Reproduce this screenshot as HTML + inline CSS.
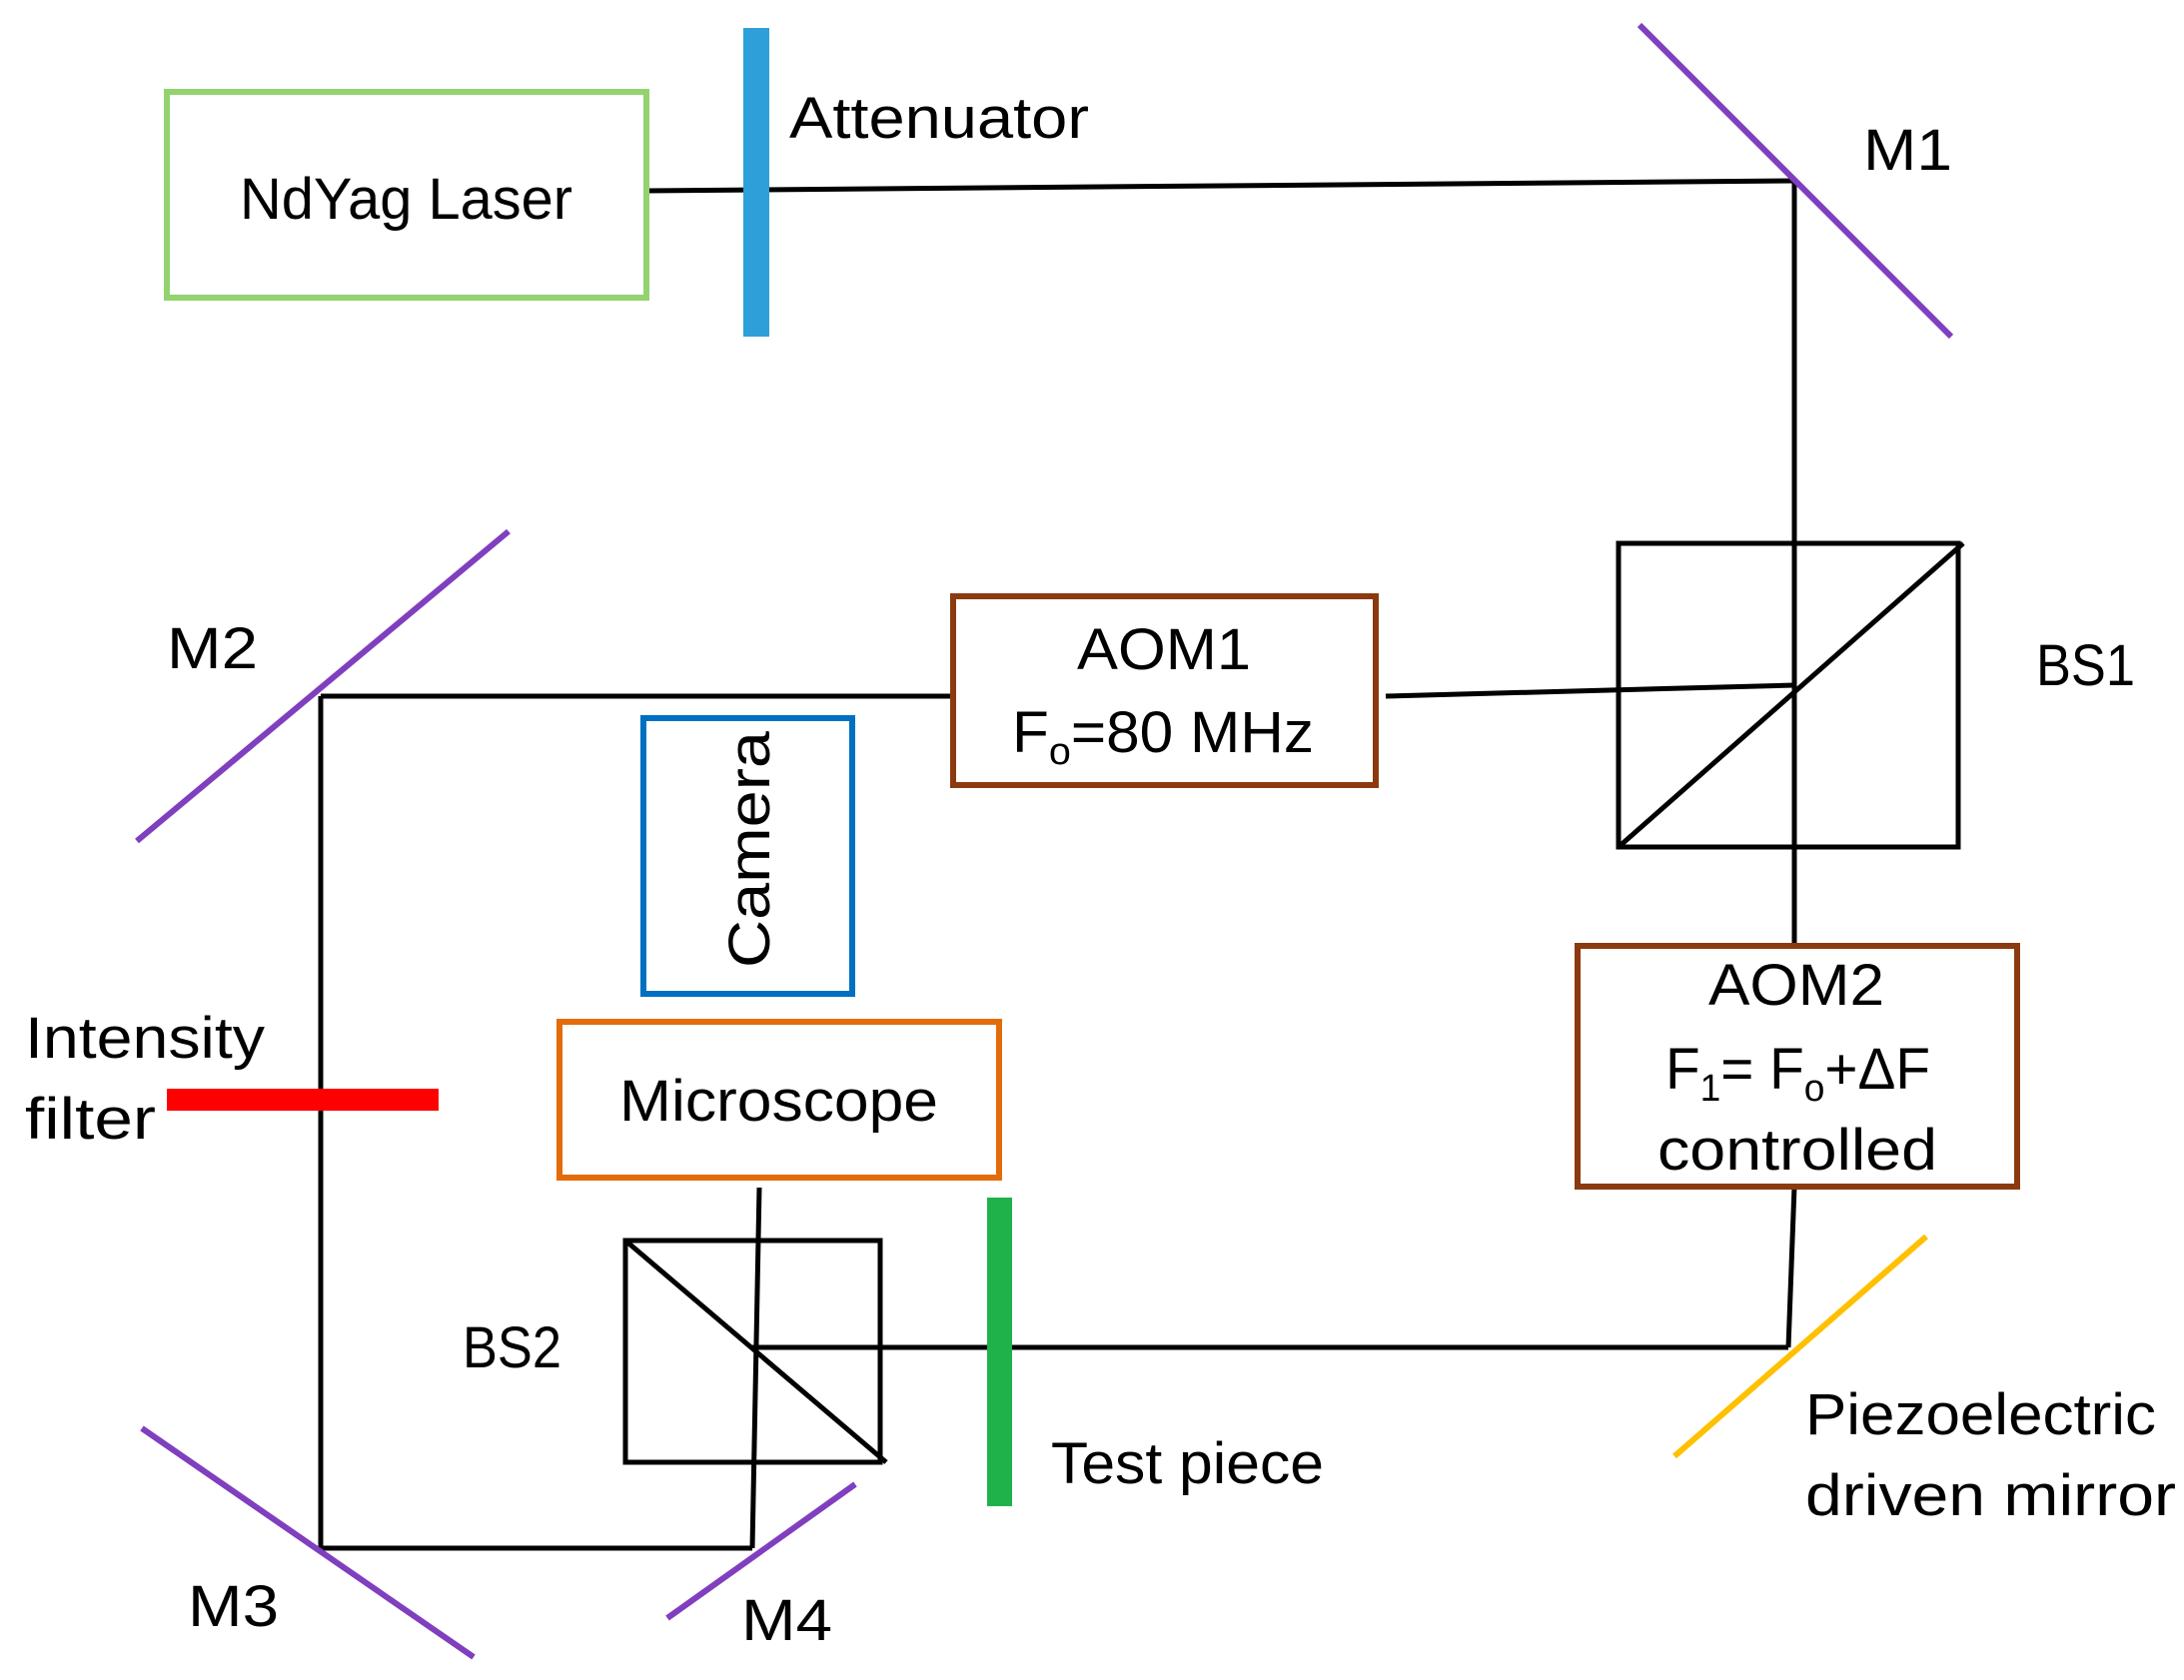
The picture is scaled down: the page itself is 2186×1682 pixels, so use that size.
<!DOCTYPE html>
<html><head><style>html,body{margin:0;padding:0;background:#fff}svg{display:block}</style></head>
<body>
<svg width="2186" height="1682" viewBox="0 0 2186 1682" xmlns="http://www.w3.org/2000/svg" font-family="Liberation Sans, sans-serif" font-size="58" fill="#000">
<g stroke="#000" stroke-width="5" fill="none">
<line x1="647" y1="191" x2="1796" y2="181"/>
<line x1="1796" y1="181" x2="1796" y2="947"/>
<rect x="1620" y="544" width="340" height="304"/>
<line x1="1620" y1="848" x2="1965" y2="544"/>
<line x1="1387" y1="697" x2="1796" y2="686"/>
<line x1="954" y1="697" x2="321" y2="697"/>
<line x1="321" y1="697" x2="321" y2="1550"/>
<line x1="321" y1="1550" x2="753" y2="1550"/>
<line x1="753" y1="1550" x2="760" y2="1189"/>
<rect x="626" y="1242" width="255" height="222"/>
<line x1="626" y1="1242" x2="887" y2="1464"/>
<line x1="753" y1="1349" x2="1790" y2="1349"/>
<line x1="1796" y1="1188" x2="1790" y2="1349"/>
</g>
<rect x="167" y="92" width="480" height="206" fill="none" stroke="#93d36f" stroke-width="6"/>
<rect x="744" y="28" width="26" height="309" fill="#2e9fd8"/>
<g stroke="#7f3fbf" stroke-width="6">
<line x1="1641" y1="25" x2="1953" y2="337"/>
<line x1="137" y1="842" x2="509" y2="532"/>
<line x1="142" y1="1430" x2="474" y2="1659"/>
<line x1="668" y1="1620" x2="856" y2="1486"/>
</g>
<line x1="1676" y1="1458" x2="1928" y2="1238" stroke="#ffc000" stroke-width="6"/>
<rect x="167" y="1090" width="272" height="22" fill="#f00"/>
<rect x="988" y="1199" width="25" height="309" fill="#1fb14a"/>
<rect x="954" y="597" width="423" height="189" fill="none" stroke="#8b3a0f" stroke-width="6"/>
<rect x="1579" y="947" width="440" height="241" fill="none" stroke="#8b3a0f" stroke-width="6"/>
<rect x="644" y="719" width="209" height="276" fill="none" stroke="#0070c0" stroke-width="6"/>
<rect x="560" y="1023" width="440" height="156" fill="none" stroke="#e36c0a" stroke-width="6"/>
<g lengthAdjust="spacingAndGlyphs">
<text x="240" y="219" textLength="333" lengthAdjust="spacingAndGlyphs">NdYag Laser</text>
<text x="790" y="138" textLength="300" lengthAdjust="spacingAndGlyphs">Attenuator</text>
<text x="1865" y="170" textLength="89" lengthAdjust="spacingAndGlyphs">M1</text>
<text x="2038" y="686" textLength="99" lengthAdjust="spacingAndGlyphs">BS1</text>
<text x="167" y="669" textLength="91" lengthAdjust="spacingAndGlyphs">M2</text>
<text x="1078" y="670" textLength="174" lengthAdjust="spacingAndGlyphs">AOM1</text>
<text x="1013" y="753" textLength="302" lengthAdjust="spacingAndGlyphs">F<tspan font-size="38" dy="12">o</tspan><tspan dy="-12">=80 MHz</tspan></text>
<text x="1710" y="1006" textLength="176" lengthAdjust="spacingAndGlyphs">AOM2</text>
<text x="1667" y="1090" textLength="265" lengthAdjust="spacingAndGlyphs">F<tspan font-size="38" dy="12">1</tspan><tspan dy="-12">= F</tspan><tspan font-size="38" dy="12">o</tspan><tspan dy="-12">+ΔF</tspan></text>
<text x="1659" y="1171" textLength="280" lengthAdjust="spacingAndGlyphs">controlled</text>
<text transform="translate(770,969) rotate(-90)" textLength="237" lengthAdjust="spacingAndGlyphs">Camera</text>
<text x="620" y="1122" textLength="319" lengthAdjust="spacingAndGlyphs">Microscope</text>
<text x="25" y="1059" textLength="240" lengthAdjust="spacingAndGlyphs">Intensity</text>
<text x="25" y="1140" textLength="131" lengthAdjust="spacingAndGlyphs">filter</text>
<text x="463" y="1369" textLength="99" lengthAdjust="spacingAndGlyphs">BS2</text>
<text x="1052" y="1485" textLength="273" lengthAdjust="spacingAndGlyphs">Test piece</text>
<text x="1807" y="1436" textLength="351" lengthAdjust="spacingAndGlyphs">Piezoelectric</text>
<text x="1807" y="1517" textLength="371" lengthAdjust="spacingAndGlyphs">driven mirror</text>
<text x="188" y="1628" textLength="91" lengthAdjust="spacingAndGlyphs">M3</text>
<text x="742" y="1642" textLength="91" lengthAdjust="spacingAndGlyphs">M4</text>
</g>
</svg>
</body></html>
